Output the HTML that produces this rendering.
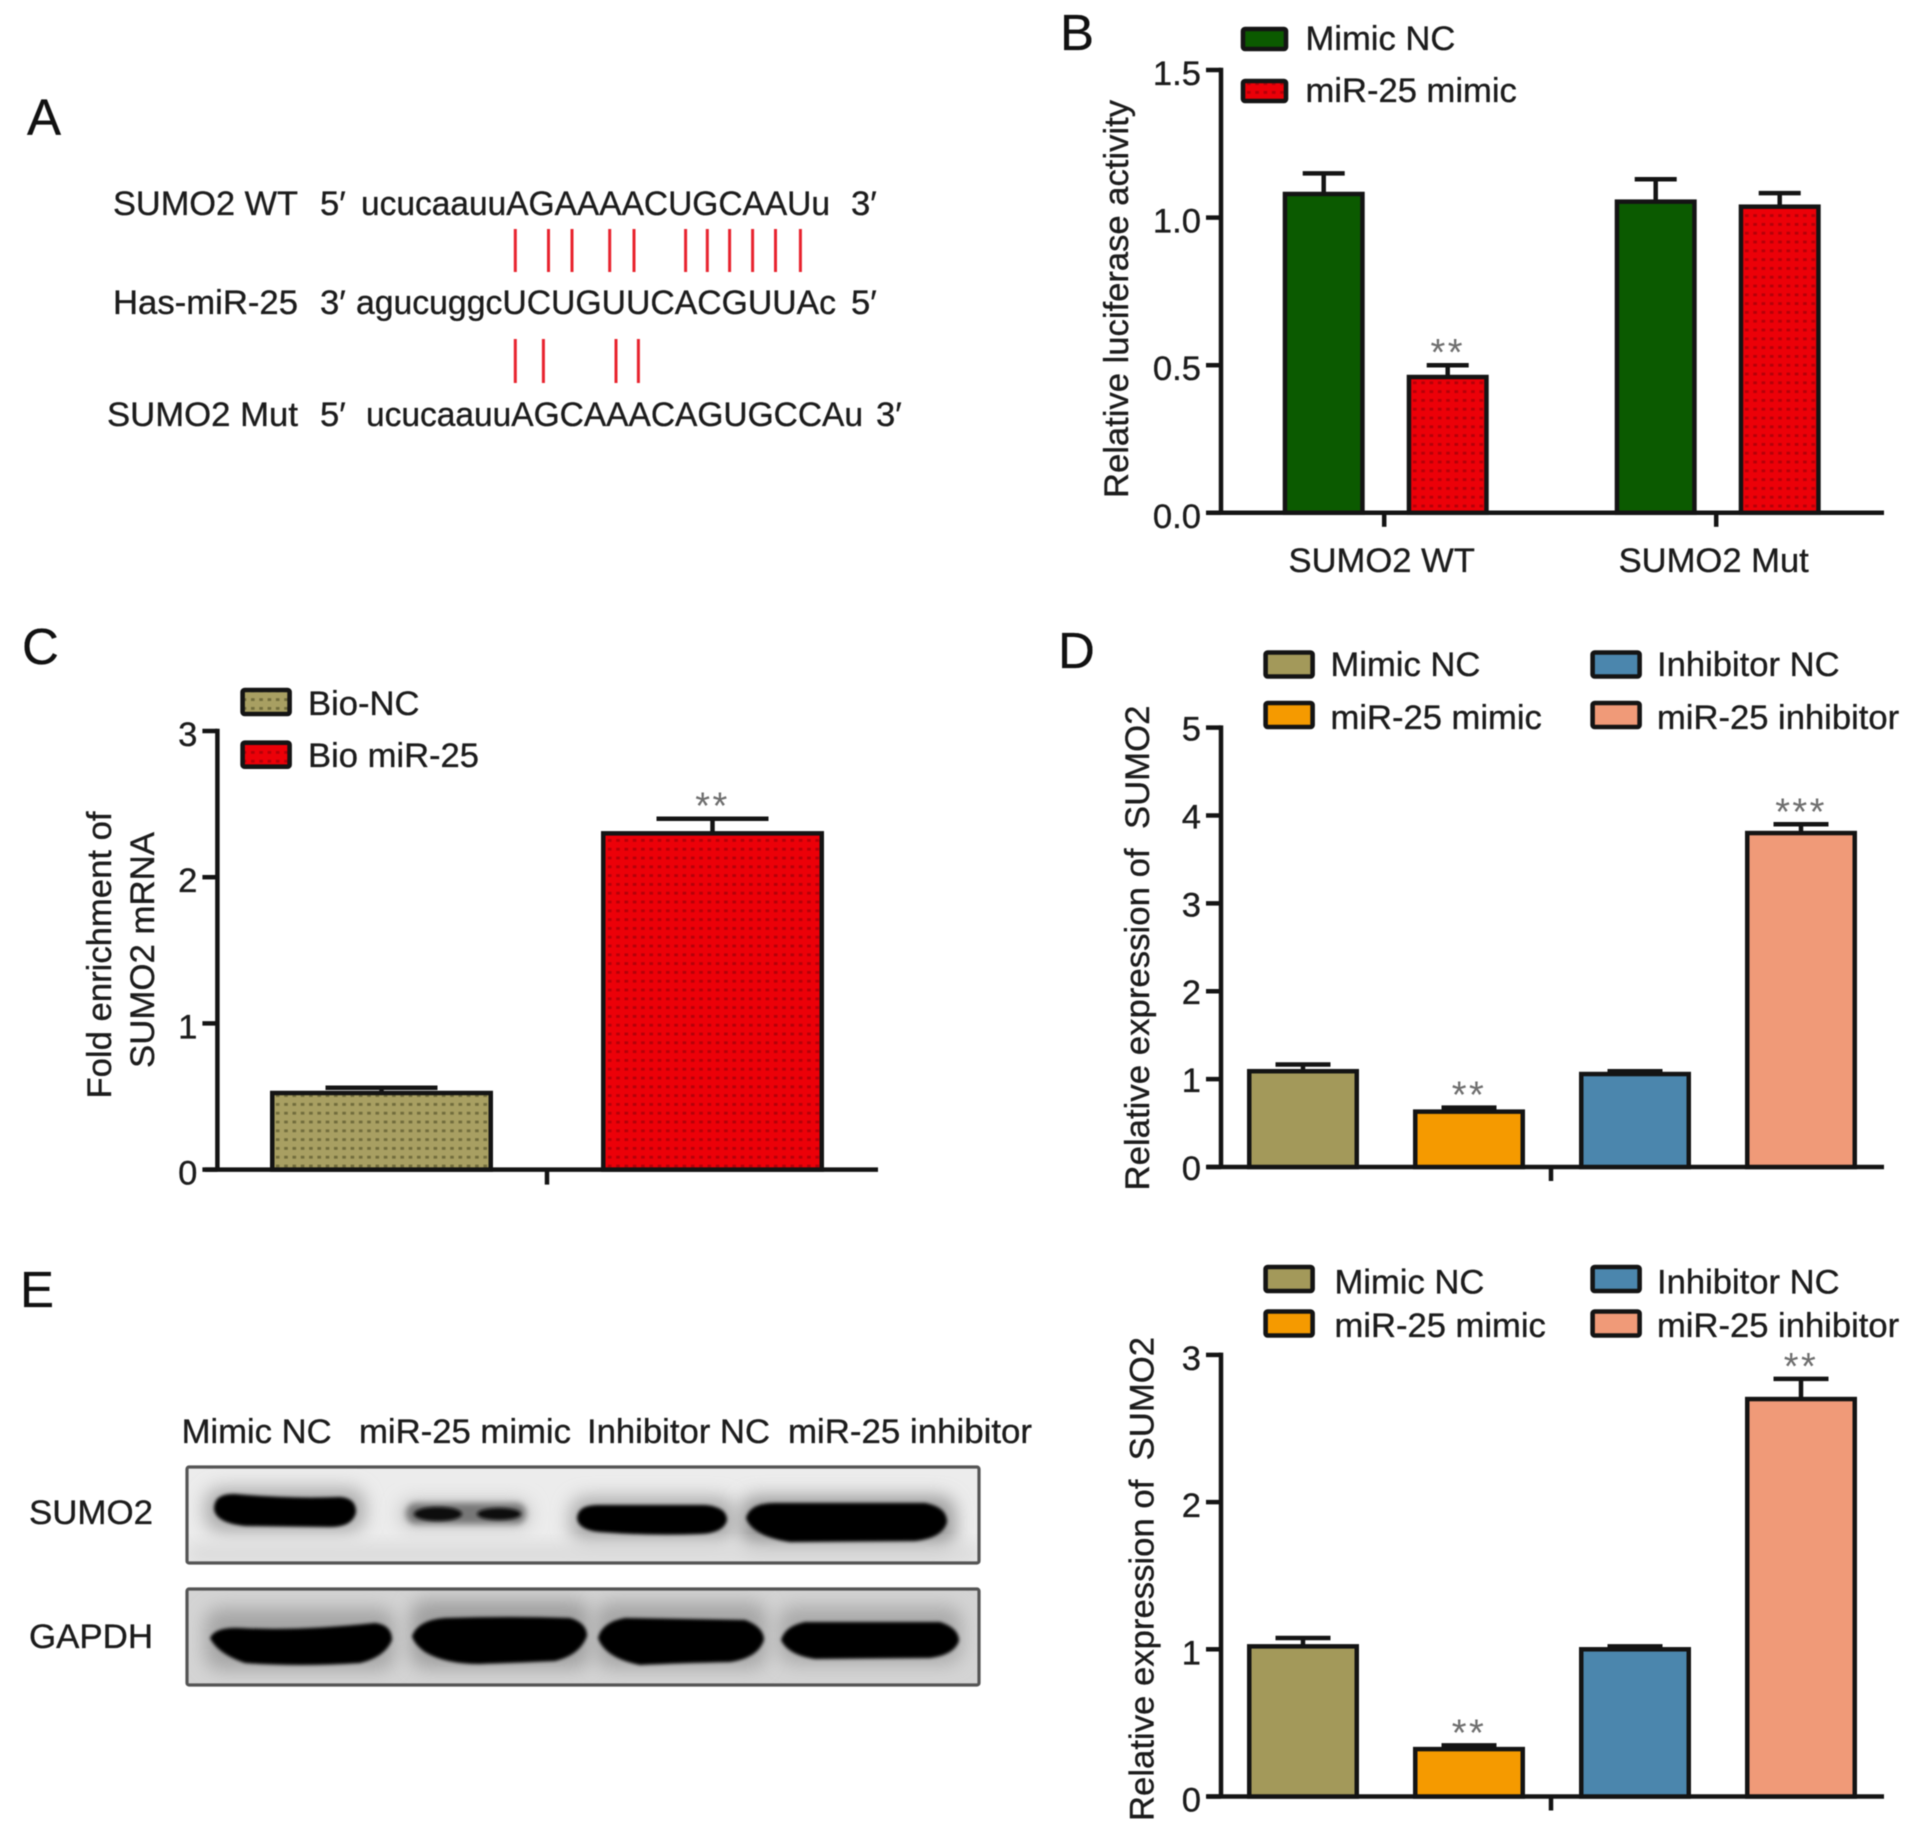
<!DOCTYPE html>
<html lang="en">
<head>
<meta charset="utf-8">
<title>SUMO2 and miR-25 multi-panel figure</title>
<style>
html,body{margin:0;padding:0;background:#fff;}
svg{display:block;filter:blur(.55px);}
text{font-family:"Liberation Sans",Arial,sans-serif;fill:#1c1c1c;font-size:34.6px;stroke:#1c1c1c;stroke-width:.35px;}
.lbl{font-size:51px;fill:#111;}
.pair{stroke:#e8232e;stroke-width:3;}
</style>
</head>
<body>
<svg id="fig" xmlns="http://www.w3.org/2000/svg" width="1913" height="1831" viewBox="0 0 1913 1831">
<defs>
<pattern id="dotsRed" width="8.3" height="8.8" patternUnits="userSpaceOnUse"><rect width="8.3" height="8.8" fill="#ec0008"/><rect x="2" y="3" width="3.6" height="2.8" fill="#b40008"/></pattern>
<pattern id="dotsKhaki" width="8.3" height="8.8" patternUnits="userSpaceOnUse"><rect width="8.3" height="8.8" fill="#a89f62"/><rect x="2" y="3" width="3.6" height="2.8" fill="#716c3c"/></pattern>
<filter id="b0" x="-30%" y="-60%" width="160%" height="220%"><feGaussianBlur stdDeviation="1.6"/></filter>
<filter id="b1" x="-30%" y="-60%" width="160%" height="220%"><feGaussianBlur stdDeviation="3.2"/></filter>
<filter id="b2" x="-30%" y="-60%" width="160%" height="220%"><feGaussianBlur stdDeviation="9"/></filter>
<clipPath id="clipSumo"><rect x="187" y="1467" width="792" height="96"/></clipPath>
<clipPath id="clipGapdh"><rect x="187" y="1589" width="792" height="96"/></clipPath>
</defs>

<text class="lbl" x="27" y="135">A</text>
<text class="lbl" x="1060" y="50">B</text>
<text class="lbl" x="22" y="664">C</text>
<text class="lbl" x="1058" y="668">D</text>
<text class="lbl" x="20" y="1307">E</text>

<g>
<text x="298" y="215" text-anchor="end" textLength="185" lengthAdjust="spacingAndGlyphs">SUMO2 WT</text>
<text x="320" y="215">5′</text>
<text x="361" y="215" textLength="469" lengthAdjust="spacingAndGlyphs">ucucaauuAGAAAACUGCAAUu</text>
<text x="851" y="215">3′</text>
<text x="298" y="314" text-anchor="end" textLength="185" lengthAdjust="spacingAndGlyphs">Has-miR-25</text>
<text x="320" y="314">3′</text>
<text x="356" y="314" textLength="480" lengthAdjust="spacingAndGlyphs">agucuggcUCUGUUCACGUUAc</text>
<text x="851" y="314">5′</text>
<text x="298" y="426" text-anchor="end" textLength="191" lengthAdjust="spacingAndGlyphs">SUMO2 Mut</text>
<text x="320" y="426">5′</text>
<text x="366" y="426" textLength="497" lengthAdjust="spacingAndGlyphs">ucucaauuAGCAAACAGUGCCAu</text>
<text x="876" y="426">3′</text>
<g>
<line class="pair" x1="515.3" x2="515.3" y1="229" y2="272"/><line class="pair" x1="548.5" x2="548.5" y1="229" y2="272"/><line class="pair" x1="572" x2="572" y1="229" y2="272"/><line class="pair" x1="609.7" x2="609.7" y1="229" y2="272"/><line class="pair" x1="634" x2="634" y1="229" y2="272"/><line class="pair" x1="685.6" x2="685.6" y1="229" y2="272"/><line class="pair" x1="707.3" x2="707.3" y1="229" y2="272"/><line class="pair" x1="729.6" x2="729.6" y1="229" y2="272"/><line class="pair" x1="752.6" x2="752.6" y1="229" y2="272"/><line class="pair" x1="775.5" x2="775.5" y1="229" y2="272"/><line class="pair" x1="800.4" x2="800.4" y1="229" y2="272"/>
</g>
<g>
<line class="pair" x1="515.3" x2="515.3" y1="339" y2="383"/><line class="pair" x1="543.4" x2="543.4" y1="339" y2="383"/><line class="pair" x1="616" x2="616" y1="339" y2="383"/><line class="pair" x1="638.4" x2="638.4" y1="339" y2="383"/>
</g>
</g>

<g>
<text x="181.6" y="1443" textLength="150" lengthAdjust="spacingAndGlyphs">Mimic NC</text>
<text x="359" y="1443" textLength="212" lengthAdjust="spacingAndGlyphs">miR-25 mimic</text>
<text x="587" y="1443" textLength="183" lengthAdjust="spacingAndGlyphs">Inhibitor NC</text>
<text x="788" y="1443" textLength="244" lengthAdjust="spacingAndGlyphs">miR-25 inhibitor</text>
<text x="29" y="1524" textLength="124" lengthAdjust="spacingAndGlyphs">SUMO2</text>
<text x="29" y="1648" textLength="124" lengthAdjust="spacingAndGlyphs">GAPDH</text>

<g>
<rect x="187" y="1467" width="792" height="96" fill="#ececec"/>
<g clip-path="url(#clipSumo)">
<rect x="205" y="1488" width="160" height="44" rx="16" fill="#aaa" filter="url(#b2)"/>
<rect x="400" y="1500" width="130" height="28" rx="12" fill="#c4c4c4" filter="url(#b2)"/>
<rect x="570" y="1497" width="165" height="46" rx="16" fill="#aaa" filter="url(#b2)"/>
<rect x="740" y="1496" width="215" height="54" rx="16" fill="#999" filter="url(#b2)"/>
<rect x="187" y="1545" width="792" height="18" fill="#d8d8d8" filter="url(#b2)"/>
<path d="M214 1509 Q214 1493 235 1494 Q290 1499 340 1497 Q356 1498 356 1512 Q353 1527 330 1527 L245 1526 Q216 1523 214 1509Z" fill="#020202" filter="url(#b0)"/>
<rect x="406" y="1503" width="120" height="21" rx="10" fill="#777" filter="url(#b1)"/>
<ellipse cx="438" cy="1514" rx="24" ry="7" fill="#080808" filter="url(#b0)"/>
<ellipse cx="499" cy="1514" rx="22" ry="6" fill="#101010" filter="url(#b0)"/>
<path d="M577 1518 Q578 1505 598 1505 L705 1505 Q727 1507 727 1520 Q724 1533 700 1534 Q650 1536 600 1532 Q578 1530 577 1518Z" fill="#020202" filter="url(#b0)"/>
<path d="M746 1518 Q750 1503 775 1503 L925 1503 Q947 1507 947 1522 Q943 1538 915 1541 L790 1542 Q752 1536 746 1518Z" fill="#020202" filter="url(#b0)"/>
</g>
<rect x="187" y="1467" width="792" height="96" fill="none" stroke="#555" stroke-width="3.2" rx="2"/>
</g>

<g>
<rect x="187" y="1589" width="792" height="96" fill="#d4d4d4"/>
<g clip-path="url(#clipGapdh)">
<rect x="205" y="1608" width="190" height="62" rx="16" fill="#a6a6a6" filter="url(#b2)"/>
<rect x="410" y="1600" width="180" height="68" rx="16" fill="#a0a0a0" filter="url(#b2)"/>
<rect x="595" y="1602" width="172" height="66" rx="16" fill="#a6a6a6" filter="url(#b2)"/>
<rect x="778" y="1606" width="184" height="58" rx="16" fill="#aaa" filter="url(#b2)"/>
<path d="M210 1638 Q215 1627 240 1628 Q300 1631 375 1623 Q392 1625 392 1640 Q385 1657 360 1663 Q300 1667 245 1663 Q218 1654 210 1638Z" fill="#020202" filter="url(#b0)"/>
<path d="M412 1636 Q418 1620 445 1618 Q510 1616 570 1618 Q587 1623 587 1636 Q580 1655 555 1661 Q510 1663 480 1664 Q445 1664 425 1652 Q414 1644 412 1636Z" fill="#020202" filter="url(#b0)"/>
<path d="M598 1638 Q602 1622 625 1618 L745 1620 Q764 1627 764 1640 Q758 1658 730 1662 Q680 1663 640 1665 Q605 1658 598 1638Z" fill="#020202" filter="url(#b0)"/>
<path d="M781 1640 Q785 1626 805 1622 L940 1622 Q959 1628 959 1641 Q954 1655 930 1658 L815 1659 Q788 1655 781 1640Z" fill="#020202" filter="url(#b0)"/>
</g>
<rect x="187" y="1589" width="792" height="96" fill="none" stroke="#555" stroke-width="3.2" rx="2"/>
</g>
</g>

<g id="charts"></g>
</svg>

<script>
// Panel B data
const bCategories = ['SUMO2 WT', 'SUMO2 Mut'];
const bSeriesNames = ['Mimic NC', 'miR-25 mimic'];
const bMimicNcValues = [1.08, 1.054];
const bMimicNcErrors = [0.07, 0.076];
const bMir25Values = [0.46, 1.037];
const bMir25Errors = [0.04, 0.046];
const bMimicNcStars = ['', ''];
const bMir25Stars = ['**', ''];
const bTickLabels = ['0.0', '0.5', '1.0', '1.5'];

// Panel C data
const cCategories = ['Bio-NC', 'Bio miR-25'];
const cValues = [0.524, 2.30];
const cErrors = [0.036, 0.10];
const cStars = ['', '**'];
const cTickLabels = ['0', '1', '2', '3'];

// Panel D data
const dCategories = ['Mimic NC', 'miR-25 mimic', 'Inhibitor NC', 'miR-25 inhibitor'];
const dValues = [1.09, 0.63, 1.058, 3.80];
const dErrors = [0.077, 0.045, 0.032, 0.10];
const dStars = ['', '**', '', '***'];
const dTickLabels = ['0', '1', '2', '3', '4', '5'];

// Panel E chart data
const eCategories = ['Mimic NC', 'miR-25 mimic', 'Inhibitor NC', 'miR-25 inhibitor'];
const eValues = [1.02, 0.322, 1.0, 2.70];
const eErrors = [0.057, 0.025, 0.02, 0.137];
const eStars = ['', '**', '', '**'];
const eTickLabels = ['0', '1', '2', '3'];

const NS = 'http://www.w3.org/2000/svg';
const root = document.getElementById('charts');
const INK = '#141414';
const LW = 4.5;

function make(tag, parent, attrs) {
  const el = document.createElementNS(NS, tag);
  for (const k in attrs) el.setAttribute(k, attrs[k]);
  parent.appendChild(el);
  return el;
}
function label(parent, str, x, y, opts) {
  const el = make('text', parent, Object.assign({x: x, y: y}, opts || {}));
  el.textContent = str;
  return el;
}
function slug(s) {
  return s.toLowerCase().replace(/[^a-z0-9]+/g, '-');
}

function drawAxes(g, p, ticks) {
  const yAxis = make('line', g, {x1: p.axisX, x2: p.axisX, y1: p.yOf(p.max) - LW / 2, y2: p.y0, stroke: INK, 'stroke-width': LW});
  
  
  const xAxis = make('line', g, {x1: p.x0, x2: p.x1, y1: p.y0, y2: p.y0, stroke: INK, 'stroke-width': LW});
  
  
  ticks.forEach(function (t) {
    const v = parseFloat(t), y = p.yOf(v);
    const tick = make('line', g, {x1: p.axisX - 15, x2: p.axisX, y1: y, y2: y, stroke: INK, 'stroke-width': LW});
    
    
    const tl = label(g, t, p.axisX - 20, y + p.tickDy, {'text-anchor': 'end'});
    
    
  });
}

function drawBar(g, p, name, fill, left, width, value, err, star) {
  const top = p.yOf(value), errTop = p.yOf(value + err), cx = left + width / 2;
  const whisker = make('line', g, {x1: cx, x2: cx, y1: errTop, y2: top, stroke: INK, 'stroke-width': LW});
  
  
  const cap = make('line', g, {x1: cx - p.cap / 2, x2: cx + p.cap / 2, y1: errTop, y2: errTop, stroke: INK, 'stroke-width': LW});
  
  
  const bar = make('rect', g, {x: left + LW / 2, y: top, width: width - LW, height: p.y0 - top, fill: fill, stroke: INK, 'stroke-width': LW});
  
  
  if (star) {
    const st = label(g, star, cx, errTop - 23 + 23, {'text-anchor': 'middle', style: 'font-size:38px;letter-spacing:2.4px;fill:#6e6e6e;stroke:none'});
    
    
  }
}

function drawLegendEntry(g, name, fill, x, y, w, h, textX, baseline) {
  const sw = make('rect', g, {x: x + 2, y: y + 2, width: w - 4, height: h - 4, rx: 2, fill: fill, stroke: INK, 'stroke-width': 4.6});
  
  
  const tx = label(g, name, textX, baseline);
  
  
}

function yTitle(g, str, x, cy, len) {
  const t = label(g, str, 0, 0, {
    'text-anchor': 'middle',
    transform: 'translate(' + x + ' ' + cy + ') rotate(-90)',
    textLength: len,
    lengthAdjust: 'spacingAndGlyphs'
  });
  
  
}

function bottomTick(g, p, x, len) {
  const t = make('line', g, {x1: x, x2: x, y1: p.y0, y2: p.y0 + len, stroke: INK, 'stroke-width': LW});
  
  
}

function makePlot(axisX, x0, x1, y0, yTop, max, cap, tickDy) {
  return {axisX: axisX, x0: x0, x1: x1, y0: y0, max: max, cap: cap, tickDy: tickDy,
    yOf: function (v) { return y0 - v * (y0 - yTop) / max; }};
}

/* Panel B */
(function () {
  const g = make('g', root, {});
  
  
  const p = makePlot(1221, 1207, 1884, 512.8, 70, 1.5, 42, 15);
  const fills = ['#0b5a00', 'url(#dotsRed)'];
  const seriesVals = [bMimicNcValues, bMir25Values];
  const seriesErrs = [bMimicNcErrors, bMir25Errors];
  const seriesStars = [bMimicNcStars, bMir25Stars];
  const groupStep = 332, barW = 82, innerStep = 124, start = 1282.7;
  drawAxes(g, p, bTickLabels);
  bCategories.forEach(function (c, i) {
    const gx = start + i * groupStep;
    bSeriesNames.forEach(function (s, j) {
      drawBar(g, p, c + ' ' + s, fills[j], gx + j * innerStep, barW, seriesVals[j][i], seriesErrs[j][i], seriesStars[j][i]);
    });
    const cx = gx + (innerStep + barW) / 2;
    bottomTick(g, p, cx - 1.5, 14);
    const xl = label(g, c, cx - 4, 572, {'text-anchor': 'middle'});
    
    
  });
  drawLegendEntry(g, bSeriesNames[0], fills[0], 1241, 27, 47, 24, 1305.5, 50);
  drawLegendEntry(g, bSeriesNames[1], fills[1], 1241, 79, 47, 24, 1305.5, 102);
  yTitle(g, 'Relative luciferase activity', 1128, 299, 398);
})();

/* Panel C */
(function () {
  const g = make('g', root, {});
  
  
  const p = makePlot(217.4, 205, 878, 1169.6, 731, 3, 112, 15);
  const fills = ['url(#dotsKhaki)', 'url(#dotsRed)'];
  drawAxes(g, p, cTickLabels);
  cCategories.forEach(function (c, i) {
    drawBar(g, p, c, fills[i], 270 + i * 331, 223, cValues[i], cErrors[i], cStars[i]);
  });
  bottomTick(g, p, 547, 15);
  drawLegendEntry(g, cCategories[0], fills[0], 240.6, 688, 51, 28, 308, 715);
  drawLegendEntry(g, cCategories[1], fills[1], 240.6, 740.7, 51, 28, 308, 767);
  yTitle(g, 'Fold enrichment of', 111, 955, 287);
  yTitle(g, 'SUMO2 mRNA', 154, 950, 236);
})();

/* Panels D and E share a four-bar layout */
function fourBar(name, p, cats, vals, errs, stars, ticks, legendYs, legendBase, leftTextX, title) {
  const g = make('g', root, {});
  
  
  const fills = ['#a3995a', '#f59a00', '#4b86ad', '#f09a78'];
  drawAxes(g, p, ticks);
  cats.forEach(function (c, i) {
    drawBar(g, p, c, fills[i], 1247 + i * 166, 112, vals[i], errs[i], stars[i]);
    const col = i < 2 ? 0 : 1, row = i % 2;
    drawLegendEntry(g, c, fills[i], col ? 1590.6 : 1263.6, legendYs[row], 51, 28, col ? 1657 : leftTextX, legendBase[row]);
  });
  bottomTick(g, p, 1551, 14);
  yTitle(g, 'Relative expression of\u00a0\u00a0SUMO2', title.x, title.cy, title.len);
}

fourBar('sumo2-mrna-expression-chart', makePlot(1221, 1207, 1884, 1167, 727.6, 5, 55, 13),
  dCategories, dValues, dErrors, dStars, dTickLabels, [650.5, 701], [676, 729], 1330.5,
  {x: 1149, cy: 948, len: 485});

fourBar('sumo2-protein-expression-chart', makePlot(1221, 1207, 1884, 1796.5, 1354.9, 3, 55, 15),
  eCategories, eValues, eErrors, eStars, eTickLabels, [1265, 1309.5], [1293.7, 1337], 1334.5,
  {x: 1153.6, cy: 1579, len: 484});
</script>
</body>
</html>
